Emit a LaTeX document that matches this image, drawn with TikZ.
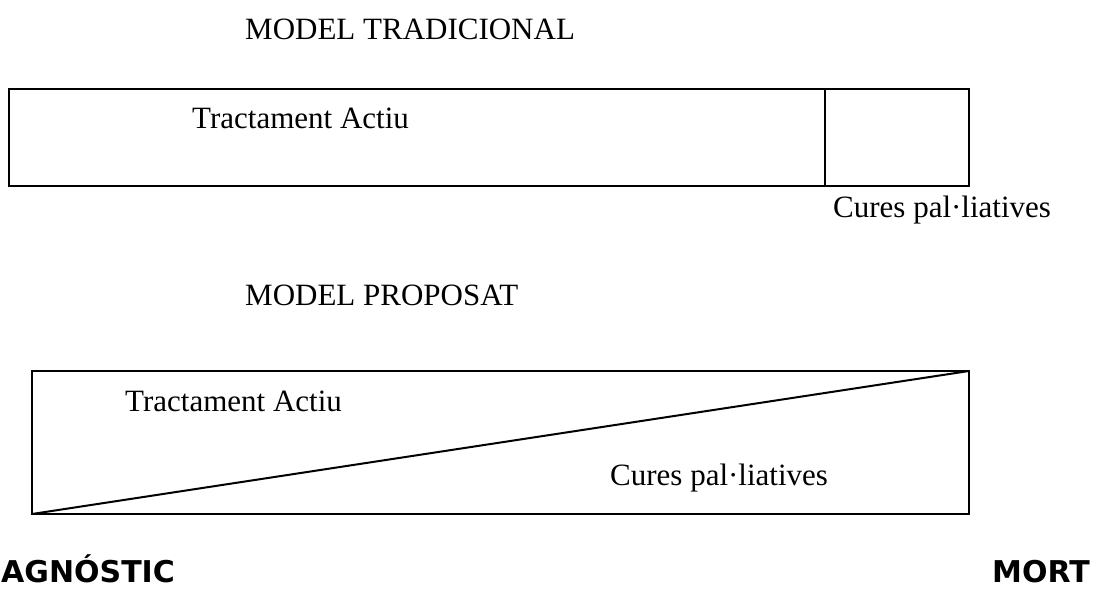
\documentclass[tikz,border=0pt]{standalone}
\usepackage{fontspec}
\setmainfont{Liberation Serif}
\newfontfamily\headfont{DejaVu Sans}
\usetikzlibrary{calc,positioning}
\tikzset{
  lbl/.style={inner sep=0pt, anchor=base west, font=\fontsize{31}{38}\selectfont},
  endlbl/.style={inner sep=0pt, text depth=0pt, font=\headfont\bfseries\fontsize{30}{36}\selectfont},
  boxline/.style={line width=2pt}
}
\begin{document}
\begin{tikzpicture}[x=1pt,y=-1pt]
        \useasboundingbox (0,0) rectangle (1098,591);
        \def\r{969}
        \def\d{825}
        \coordinate (t1) at (9,89);
        \coordinate (t2) at (\r,186);
        \coordinate (td1) at (\d,89);
        \coordinate (td2) at (\d,186);
        \coordinate (b1) at (32,371);
        \coordinate (b2) at (\r,514);
        %Draw labels
        \node[lbl] (tradtitle) at (245,40) {MODEL TRADICIONAL};
        \node[lbl] (tradact) at (192,129) {Tractament Actiu};
        \node[lbl] (tradpal) at (833,217) {Cures pal·liatives};
        \node[lbl] (proptitle) at (245,305) {MODEL PROPOSAT};
        \node[lbl] (propact) at (125,411) {Tractament Actiu};
        \node[lbl] (proppal) at (610,485) {Cures pal·liatives};
        \node[endlbl, anchor=base west] (diag) at (1,582) {AGNÓSTIC};
        \node[endlbl, anchor=base east] (mort) at (1090,582) {MORT};
        %Draw lines
        \draw[boxline] (t1) rectangle (t2);
        \draw[boxline] (td1) -- (td2);
        \draw[boxline] (b1) rectangle (b2);
        \draw[boxline] (b1 |- b2) -- (b2 |- b1);
      \end{tikzpicture}
\end{document}
